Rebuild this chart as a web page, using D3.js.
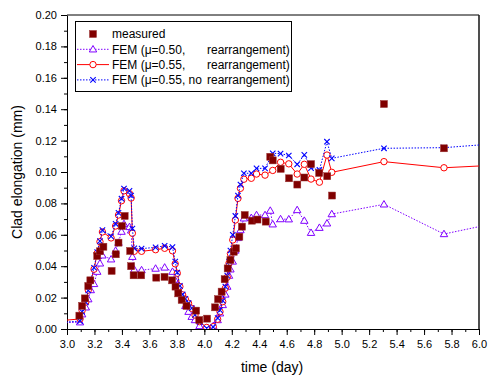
<!DOCTYPE html>
<html>
<head>
<meta charset="utf-8">
<script src="https://cdn.jsdelivr.net/npm/d3@7/dist/d3.min.js"></script>
<style>
  body { margin: 0; background: #fff; }
  svg { display: block; font-family: "Liberation Sans", Arial, sans-serif; }
</style>
</head>
<body>
<svg id="chart" width="490" height="380"></svg>
<script>
// Measured clad elongation (mm) against time (day)
const measuredTime = [3.09, 3.11, 3.13, 3.155, 3.17, 3.22, 3.24, 3.265, 3.325, 3.355, 3.375, 3.40, 3.42,
  3.46, 3.467, 3.485, 3.54, 3.65, 3.71, 3.765, 3.79, 3.81, 3.835, 3.87, 3.94, 3.963, 4.02, 4.078, 4.10,
  4.126, 4.148, 4.17, 4.19, 4.214, 4.23, 4.255, 4.274, 4.294, 4.347, 4.387, 4.447, 4.48, 4.498, 4.556,
  4.617, 4.677, 4.728, 4.777, 4.836, 4.895, 4.93, 5.308, 5.745];
const measuredValue = [0.0085, 0.0147, 0.0195, 0.0274, 0.031, 0.0465, 0.0495, 0.0524, 0.037, 0.0476, 0.055, 0.0656, 0.072,
  0.0497, 0.040, 0.0342, 0.0342, 0.0327, 0.0332, 0.031, 0.027, 0.0227, 0.0185, 0.0147, 0.0117, 0.0057, 0.0066, 0.0138, 0.019,
  0.0238, 0.0317, 0.0386, 0.044, 0.0492, 0.0514, 0.0588, 0.0652, 0.0726, 0.069, 0.0697, 0.0684, 0.1097, 0.1074, 0.102,
  0.096, 0.092, 0.0965, 0.105, 0.0994, 0.0973, 0.085, 0.1433, 0.1151];

// FEM time steps (mu = 0.55 runs)
const femTime = [2.95, 3.095, 3.11, 3.137, 3.155, 3.173, 3.197, 3.22, 3.24, 3.258, 3.321, 3.354, 3.375, 3.397, 3.415,
  3.455, 3.467, 3.476, 3.49, 3.543, 3.645, 3.711, 3.768, 3.788, 3.803, 3.822, 3.842, 3.862, 3.885, 3.908, 3.932, 3.965,
  4.017, 4.065, 4.097, 4.114, 4.134, 4.153, 4.167, 4.18, 4.19, 4.207, 4.226, 4.245, 4.263, 4.288, 4.342, 4.38, 4.442,
  4.498, 4.555, 4.615, 4.676, 4.728, 4.777, 4.838, 4.893, 4.928, 5.308, 5.745, 6.18];
// FEM mu = 0.55 with rearrangement
const fem055 = [0.0053, 0.0064, 0.0118, 0.0172, 0.0248, 0.0306, 0.0381, 0.0482, 0.0556, 0.0618, 0.058, 0.0656, 0.0726, 0.0817, 0.088,
  0.0862, 0.0834, 0.061, 0.0495, 0.0495, 0.0505, 0.0514, 0.0498, 0.0415, 0.0355, 0.027, 0.0217, 0.019, 0.0164, 0.0132, 0.0089, 0.0047,
  0.001, 0.0015, 0.0062, 0.011, 0.0174, 0.026, 0.033, 0.042, 0.048, 0.0567, 0.0694, 0.0832, 0.0896, 0.0954, 0.096, 0.0987, 0.098,
  0.101, 0.1062, 0.1052, 0.0987, 0.1049, 0.0955, 0.0935, 0.1108, 0.0998, 0.1066, 0.1027, 0.1046];
// FEM mu = 0.55 without rearrangement
const fem055NoRe = [0.0042, 0.005, 0.011, 0.017, 0.0245, 0.031, 0.039, 0.049, 0.056, 0.063, 0.059, 0.067, 0.074, 0.083, 0.0895,
  0.088, 0.085, 0.064, 0.0514, 0.0512, 0.052, 0.053, 0.0522, 0.043, 0.036, 0.0275, 0.022, 0.0192, 0.0165, 0.0133, 0.009, 0.0045,
  0.0005, 0.0012, 0.007, 0.012, 0.018, 0.027, 0.034, 0.043, 0.05, 0.06, 0.072, 0.085, 0.092, 0.0992, 0.0992, 0.1023, 0.1023,
  0.1119, 0.1117, 0.1105, 0.1049, 0.1109, 0.1025, 0.1013, 0.1193, 0.1087, 0.1151, 0.1155, 0.1184];

// FEM mu = 0.50 with rearrangement
const fem050Time = [2.95, 3.095, 3.11, 3.137, 3.155, 3.173, 3.197, 3.22, 3.24, 3.258, 3.321, 3.354, 3.375, 3.397, 3.415,
  3.455, 3.467, 3.476, 3.49, 3.543, 3.645, 3.711, 3.768, 3.788, 3.803, 3.822, 3.842, 3.862, 3.885, 3.908, 3.932, 3.965,
  4.017, 4.065, 4.097, 4.114, 4.134, 4.153, 4.167, 4.18, 4.19, 4.207, 4.226, 4.245, 4.263, 4.288, 4.342, 4.38, 4.442,
  4.48, 4.498, 4.555, 4.615, 4.676, 4.728, 4.777, 4.838, 4.893, 4.928, 5.308, 5.745, 6.18];
const fem050 = [0.004, 0.0043, 0.0094, 0.0138, 0.019, 0.0248, 0.0287, 0.0365, 0.0418, 0.0469, 0.0444, 0.0499, 0.055, 0.062, 0.0669,
  0.065, 0.0628, 0.046, 0.0378, 0.0375, 0.0385, 0.0392, 0.0365, 0.031, 0.028, 0.0238, 0.0206, 0.0147, 0.011, 0.0078, 0.0057, 0.0019,
  0.0004, 0.0019, 0.0057, 0.010, 0.0153, 0.022, 0.027, 0.034, 0.038, 0.043, 0.050, 0.058, 0.063, 0.0705, 0.0708, 0.0726, 0.0726,
  0.0754, 0.0667, 0.070, 0.0699, 0.0758, 0.069, 0.0613, 0.0645, 0.0673, 0.0732, 0.0794, 0.0605, 0.0685];

// Axis ticks
const xTicks = [3.0, 3.2, 3.4, 3.6, 3.8, 4.0, 4.2, 4.4, 4.6, 4.8, 5.0, 5.2, 5.4, 5.6, 5.8, 6.0];
const yTicks = [0.00, 0.02, 0.04, 0.06, 0.08, 0.10, 0.12, 0.14, 0.16, 0.18, 0.20];
const legendLabels = ["measured", "FEM (\u03bc=0.50,", "FEM (\u03bc=0.55,", "FEM (\u03bc=0.55, no"];

const svg = d3.select("#chart");
const L = 67, R = 479, T = 15, B = 329;
const x = d3.scaleLinear().domain([3, 6]).range([L, R]);
const y = d3.scaleLinear().domain([0, 0.2]).range([B, T]);

const DARK = "#800000", RED = "#ff0000", BLUE = "#0000ff", VIOLET = "#8000ff";

svg.append("defs").append("clipPath").attr("id", "plot")
  .append("rect").attr("x", L).attr("y", T).attr("width", R - L).attr("height", B - T);

// axes
const xMinor = d3.range(30, 61).map(v => v / 10);
const yMinor = d3.range(0, 21).map(v => v / 100);
svg.append("g").attr("transform", `translate(0,${B})`)
  .call(d3.axisBottom(x).tickValues(xMinor).tickSize(3).tickFormat(""))
  .call(g => g.select(".domain").remove());
svg.append("g").attr("transform", `translate(${L},0)`)
  .call(d3.axisLeft(y).tickValues(yMinor).tickSize(3).tickFormat(""))
  .call(g => g.select(".domain").remove());
const xAxis = svg.append("g").attr("transform", `translate(0,${B})`)
  .call(d3.axisBottom(x).tickValues(xTicks).tickSize(6).tickSizeOuter(0).tickPadding(5).tickFormat(d3.format(".1f")));
const yAxis = svg.append("g").attr("transform", `translate(${L},0)`)
  .call(d3.axisLeft(y).tickValues(yTicks).tickSize(6).tickSizeOuter(0).tickPadding(4).tickFormat(d3.format(".2f")));
[xAxis, yAxis].forEach(g => {
  g.selectAll("text").attr("font-size", 11).attr("fill", "#000").attr("font-family", "Liberation Sans, Arial, sans-serif");
  g.selectAll("line,path").attr("stroke", "#000");
});
svg.selectAll(".tick line").attr("stroke", "#000");

// frame: top and right
svg.append("line").attr("x1", L).attr("x2", R).attr("y1", T).attr("y2", T).attr("stroke", "#000");
svg.append("line").attr("x1", R).attr("x2", R).attr("y1", T).attr("y2", B).attr("stroke", "#222").attr("stroke-width", 1.6);

// axis titles
svg.append("text").attr("x", 272).attr("y", 372).attr("text-anchor", "middle").attr("font-size", 14).text("time (day)");
svg.append("text").attr("transform", "translate(22,172) rotate(-90)").attr("text-anchor", "middle")
  .attr("font-size", 14).text("Clad elongation (mm)");

const plot = svg.append("g").attr("clip-path", "url(#plot)");

function zip(ts, vs) { return ts.map((t, i) => ({ t, v: vs[i] })); }

const tri = d3.symbol().type(d3.symbolTriangle).size(24);

function drawMarker(g, kind, cx, cy) {
  if (kind === "square") {
    g.append("rect").attr("x", cx - 3.5).attr("y", cy - 3.5).attr("width", 7).attr("height", 7)
      .attr("fill", DARK).attr("stroke", "#9a3030").attr("stroke-width", 0.5);
  } else if (kind === "circle") {
    g.append("circle").attr("cx", cx).attr("cy", cy).attr("r", 3.2)
      .attr("fill", "#fff").attr("stroke", RED).attr("stroke-width", 1);
  } else if (kind === "triangle") {
    g.append("path").attr("d", tri()).attr("transform", `translate(${cx},${cy + 0.5})`)
      .attr("fill", "#fff").attr("stroke", VIOLET).attr("stroke-width", 1);
  } else if (kind === "x") {
    g.append("path").attr("d", "M-2.7,-2.7L2.7,2.7M-2.7,2.7L2.7,-2.7").attr("transform", `translate(${cx},${cy})`)
      .attr("fill", "none").attr("stroke", BLUE).attr("stroke-width", 1.1);
  }
}

const line = d3.line().x(d => x(d.t)).y(d => y(d.v));

const femSeries = [
  { data: zip(fem050Time, fem050), color: VIOLET, dash: "1.5,1.5", kind: "triangle" },
  { data: zip(femTime, fem055), color: RED, dash: null, kind: "circle" },
  { data: zip(femTime, fem055NoRe), color: BLUE, dash: "1.5,1.5", kind: "x" }
];
femSeries.forEach(s => {
  const g = plot.append("g");
  g.append("path").datum(s.data).attr("d", line).attr("fill", "none")
    .attr("stroke", s.color).attr("stroke-width", 1).attr("stroke-dasharray", s.dash);
  s.data.forEach(d => drawMarker(g, s.kind, x(d.t), y(d.v)));
});

// measured squares on top
const gM = plot.append("g");
zip(measuredTime, measuredValue).forEach(d => drawMarker(gM, "square", x(d.t), y(d.v)));

// legend
const lg = svg.append("g");
lg.append("rect").attr("x", 75.5).attr("y", 21.5).attr("width", 216).attr("height", 70)
  .attr("fill", "#fff").attr("stroke", "#000").attr("stroke-width", 1);
const rows = [
  { kind: "square", color: DARK, dash: null, line: false },
  { kind: "triangle", color: VIOLET, dash: "1.5,1.5", line: true },
  { kind: "circle", color: RED, dash: null, line: true },
  { kind: "x", color: BLUE, dash: "1.5,1.5", line: true }
];
rows.forEach((r, i) => {
  const cy = 34 + i * 15.3;
  if (r.line) {
    lg.append("line").attr("x1", 77).attr("x2", 109).attr("y1", cy).attr("y2", cy)
      .attr("stroke", r.color).attr("stroke-width", 1).attr("stroke-dasharray", r.dash);
  }
  drawMarker(lg, r.kind, 93, cy);
  lg.append("text").attr("x", 112).attr("y", cy + 4.3).attr("font-size", 12).text(legendLabels[i]);
  if (i > 0) {
    lg.append("text").attr("x", 207).attr("y", cy + 4.3).attr("font-size", 12).text("rearrangement)");
  }
});
</script>
</body>
</html>
